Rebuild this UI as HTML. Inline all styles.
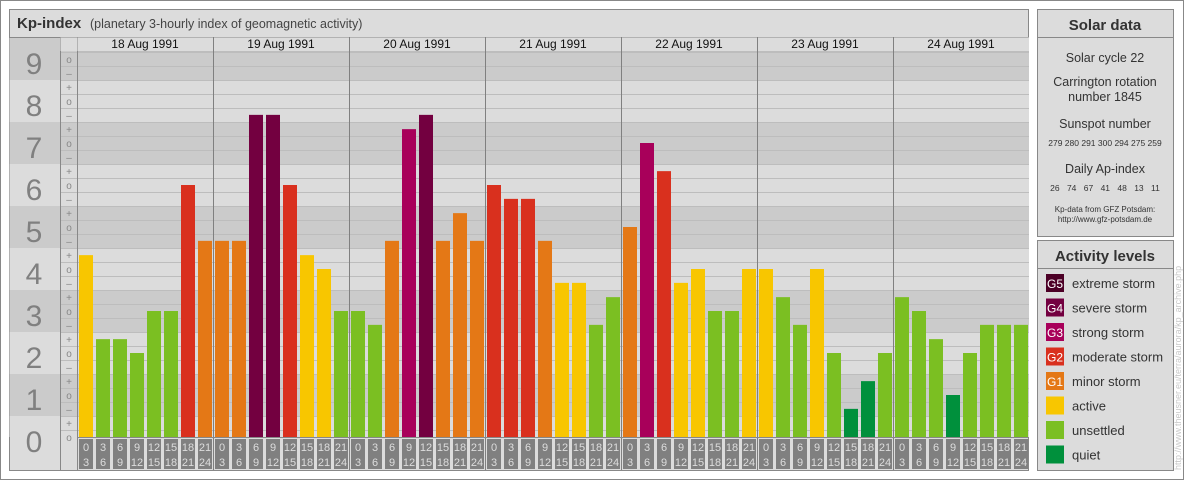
<!DOCTYPE html>
<html><head><meta charset="utf-8"><style>
body{margin:0;background:#fff;font-family:"Liberation Sans",sans-serif}
svg text{font-family:"Liberation Sans",sans-serif}
</style></head><body>
<svg width="1184" height="480" xmlns="http://www.w3.org/2000/svg">
<rect x="0.5" y="0.5" width="1183" height="479" fill="#fff" stroke="#888"/>
<g id="main">
<rect x="9.5" y="9.5" width="1019" height="461" fill="#dcdcdc" stroke="#888"/>
<line x1="9" y1="37.5" x2="1029" y2="37.5" stroke="#888"/>
<text x="17" y="28" font-size="15" font-weight="bold" fill="#333">Kp-index</text>
<text x="90" y="28" font-size="12.5" fill="#444">(planetary 3-hourly index of geomagnetic activity)</text>
<g id="grid"></g>
<g id="bars"></g>
<g id="xlabels"></g>
</g>
<g>
<rect x="1037.5" y="9.5" width="136" height="227" fill="#dcdcdc" stroke="#888"/>
<line x1="1037" y1="37.5" x2="1174" y2="37.5" stroke="#888"/>
<text x="1105" y="30" font-size="15" font-weight="bold" fill="#333" text-anchor="middle">Solar data</text>
<g fill="#333" text-anchor="middle">
<text x="1105" y="62" font-size="12.5">Solar cycle 22</text>
<text x="1105" y="86" font-size="12.5">Carrington rotation</text>
<text x="1105" y="101" font-size="12.5">number 1845</text>
<text x="1105" y="128" font-size="12.5">Sunspot number</text>
<text x="1105" y="146" font-size="8.5">279 280 291 300 294 275 259</text>
<text x="1105" y="173" font-size="12.5">Daily Ap-index</text>
<text x="1105" y="191" font-size="8.5" word-spacing="5">26 74 67 41 48 13 11</text>
<text x="1105" y="212" font-size="8">Kp-data from GFZ Potsdam:</text>
<text x="1105" y="222" font-size="8">http://www.gfz-potsdam.de</text>
</g>
</g>
<g>
<rect x="1037.5" y="240.5" width="136" height="230" fill="#dcdcdc" stroke="#888"/>
<line x1="1037" y1="268.5" x2="1174" y2="268.5" stroke="#888"/>
<text x="1105" y="261" font-size="15" font-weight="bold" fill="#333" text-anchor="middle">Activity levels</text>
<g id="legend"></g>
</g>
<text transform="translate(1181,470) rotate(-90)" font-size="9" fill="#c8c8c8">http://www.theusner.eu/terra/aurora/kp_archive.php</text>
</svg>
<script>
const days = ["18 Aug 1991","19 Aug 1991","20 Aug 1991","21 Aug 1991","22 Aug 1991","23 Aug 1991","24 Aug 1991"];
const hours = ["0","3","6","9","12","15","18","21","24"];
const kpValues = [
 4.33,2.33,2.33,2,3,3,6,4.67,
 4.67,4.67,7.67,7.67,6,4.33,4,3,
 3,2.67,4.67,7.33,7.67,4.67,5.33,4.67,
 6,5.67,5.67,4.67,3.67,3.67,2.67,3.33,
 5,7,6.33,3.67,4,3,3,4,
 4,3.33,2.67,4,2,0.67,1.33,2,
 3.33,3,2.33,1,2,2.67,2.67,2.67];
const yTicks = ["0","1","2","3","4","5","6","7","8","9"];
const colors = {0:"#00903c",1:"#00903c",2:"#7bbf22",3:"#7bbf22",4:"#f8c600",5:"#e47816",6:"#d9301e",7:"#a8005a",8:"#730040",9:"#4c0026"};
const legendItems = [["G5","extreme storm","#4c0026"],["G4","severe storm","#730040"],["G3","strong storm","#a8005a"],["G2","moderate storm","#d9301e"],["G1","minor storm","#e47816"],["","active","#f8c600"],["","unsettled","#7bbf22"],["","quiet","#00903c"]];
const NS="http://www.w3.org/2000/svg";
const X0=77, X1=1029, Y0=437, U=42, COL=17;
const y=k=>Y0-k*U;
const x=i=>X0+i*COL;
function mk(t,a,p){const e=document.createElementNS(NS,t);for(const k in a)e.setAttribute(k,a[k]);p.appendChild(e);return e;}
const grid=document.getElementById('grid');
// bands
for(let n=0;n<yTicks.length;n++){
 const top=Math.max(y(n+0.5),37.5), bot=Math.min(y(n-0.5),Y0);
 const dark=n%2===1;
 const b=mk('rect',{x:9.5,y:top,width:X1-9.5,height:bot-top,fill:dark?'#cbcbcb':'#dcdcdc'},grid);
 
 
 const lb=mk('text',{x:34,y:y(n)+15,'font-size':30,fill:'#808080','text-anchor':'middle'},grid);
 lb.textContent=yTicks[n];
 
 
 const subs=[[-1/3,'–'],[0,'o'],[1/3,'+']];
 for(const [d,s] of subs){
  const k=n+d; if(k<0||k>9.1) continue;
  const t=mk('text',{x:69,y:y(k)+4,'font-size':10,fill:'#888','text-anchor':'middle'},grid);
  t.textContent=s;
  
  
 }
}
// date header band overlay
mk('rect',{x:77.5,y:37.5,width:X1-77.5,height:13.5,fill:'#dcdcdc'},grid);
// sub gridlines
for(let j=-0.5;j<=9.4;j+=1/3){
 const yy=Math.round(y(j+1/3+1/6- 1/3))+0.5;
}
for(let m=1;m<=28;m++){const k=m/3-1/6; const yy=Math.round(y(k))+0.5; if(yy<51)continue;
 mk('line',{x1:60,x2:X1,y1:yy,y2:yy,stroke:'#bdbdbd'},grid);}
mk('line',{x1:77,x2:X1,y1:51.5,y2:51.5,stroke:'#bdbdbd'},grid);
mk('line',{x1:60.5,x2:60.5,y1:37,y2:470,stroke:'#888'},grid);
mk('line',{x1:77.5,x2:77.5,y1:37,y2:470,stroke:'#888'},grid);
mk('rect',{x:60.5,y:37.5,width:17,height:13.5,fill:'#dcdcdc'},grid);
days.forEach((d,i)=>{
 const dx=X0+i*8*COL;
 if(i>0){const l=mk('line',{x1:dx+0.5,x2:dx+0.5,y1:37,y2:470,stroke:'#808080'},grid);}
 const t=mk('text',{x:dx+68,y:48,'font-size':12,fill:'#111','text-anchor':'middle'},grid);
 t.textContent=d;
 
 
});
const bars=document.getElementById('bars'), xl=document.getElementById('xlabels');
kpValues.forEach((v,i)=>{
 const r=mk('rect',{x:x(i)+2,y:y(v),width:14,height:Y0-y(v),fill:colors[Math.round(v)]},bars);
 
 
 const h=i%8;
 const box=mk('rect',{x:x(i)+2,y:439,width:14,height:30,fill:'#808080'},xl);
 
 
 const t1=mk('text',{x:x(i)+9,y:451,'font-size':11,fill:'#ddd','text-anchor':'middle'},xl);
 t1.textContent=hours[h];
 const t2=mk('text',{x:x(i)+9,y:466,'font-size':11,fill:'#ddd','text-anchor':'middle'},xl);
 t2.textContent=hours[h+1];
});
mk('line',{x1:X0,x2:X1,y1:437.5,y2:437.5,stroke:'#888'},xl);
const lg=document.getElementById('legend');
legendItems.forEach((it,i)=>{
 const yy=274+i*24.5;
 const s=mk('rect',{x:1046,y:yy,width:18,height:18,fill:it[2]},lg);
 
 
 if(it[0]){const g=mk('text',{x:1055,y:yy+14,'font-size':12,fill:'#fff','text-anchor':'middle'},lg);g.textContent=it[0];}
 const t=mk('text',{x:1072,y:yy+14,'font-size':13,fill:'#333'},lg);
 t.textContent=it[1];
 
 
});
</script>
</body></html>
